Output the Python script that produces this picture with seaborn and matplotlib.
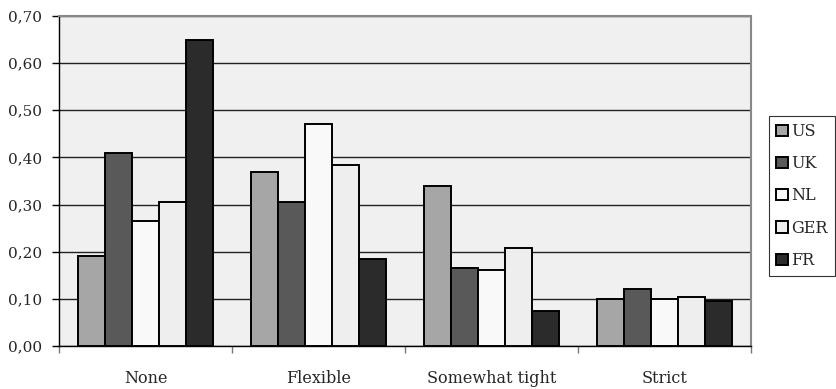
import matplotlib
matplotlib.use("Agg")
import matplotlib.pyplot as plt
import seaborn as sns
import pandas as pd
from matplotlib.ticker import FixedLocator

categories = ["None", "Flexible", "Somewhat tight", "Strict"]
countries = ["US", "UK", "NL", "GER", "FR"]
us = [0.19, 0.37, 0.34, 0.10]
uk = [0.41, 0.305, 0.165, 0.12]
nl = [0.265, 0.47, 0.162, 0.10]
ger = [0.305, 0.383, 0.207, 0.104]
fr = [0.65, 0.184, 0.075, 0.095]
yticks = [0.0, 0.1, 0.2, 0.3, 0.4, 0.5, 0.6, 0.7]
ytick_labels = ["0,00", "0,10", "0,20", "0,30", "0,40", "0,50", "0,60", "0,70"]

colors = ["#a6a6a6", "#595959", "#f9f9f9", "#eeeeee", "#2b2b2b"]

rows = []
for name, vals in zip(countries, [us, uk, nl, ger, fr]):
    for cat, v in zip(categories, vals):
        rows.append({"category": cat, "country": name, "value": v})
df = pd.DataFrame(rows)

sns.set_style("white")
plt.rcParams["font.family"] = ["DejaVu Serif"]

fig = plt.figure(figsize=(8.36, 3.89), dpi=100)
ax = fig.add_axes([0.0706, 0.1105, 0.828, 0.8484])
ax.set_facecolor("#f0f0f0")

sns.barplot(data=df, x="category", y="value", hue="country",
            order=categories, hue_order=countries, palette=colors,
            edgecolor="black", linewidth=1.4, width=0.78, ax=ax,
            errorbar=None, legend=False, zorder=3)

ax.set_ylim(0, 0.70)
ax.set_xlim(-0.5, 3.5)
ax.set_yticks(yticks)
ax.set_yticklabels(ytick_labels, fontsize=11)
ax.yaxis.grid(True, color="#222222", linewidth=1.0, zorder=0)
ax.set_axisbelow(True)
ax.tick_params(axis="y", direction="out", length=5, width=1, color="black", pad=7, left=True)
ax.tick_params(axis="x", which="major", length=0, pad=17, labelsize=11.5)
ax.xaxis.set_minor_locator(FixedLocator([-0.5, 0.5, 1.5, 2.5, 3.5]))
ax.tick_params(axis="x", which="minor", direction="out", length=5, width=1, color="#777777", bottom=True)
ax.set_xlabel("")
ax.set_ylabel("")

for side in ["left", "bottom"]:
    ax.spines[side].set_color("black")
    ax.spines[side].set_linewidth(1.0)
for side in ["top", "right"]:
    ax.spines[side].set_color("#888888")
    ax.spines[side].set_linewidth(1.5)

handles = [plt.Rectangle((0, 0), 1, 1, facecolor=c, edgecolor="black", linewidth=1.4)
           for c in colors]
leg = fig.legend(handles, countries, loc="upper left", bbox_to_anchor=(0.92, 0.702),
                 frameon=True, fancybox=False, fontsize=11.5, handlelength=0.75,
                 handleheight=0.7, handletextpad=0.2, labelspacing=0.95,
                 borderpad=0.45, borderaxespad=0)
leg.get_frame().set_edgecolor("black")
leg.get_frame().set_linewidth(0.8)

fig.savefig("out.png", dpi=100)
